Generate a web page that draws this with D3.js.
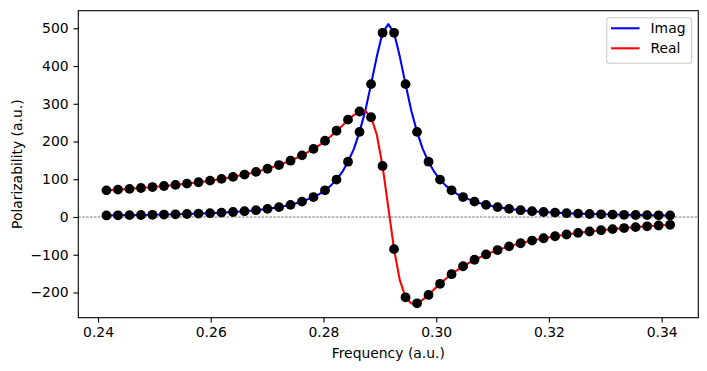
<!DOCTYPE html>
<html>
<head>
<meta charset="utf-8">
<script src="https://cdn.jsdelivr.net/npm/d3@7"></script>
<style>
  body { margin: 0; background: #fff; }
  svg text { font-family: "DejaVu Sans", sans-serif; font-size: 13.9px; fill: #000; }
</style>
</head>
<body>
<svg id="chart" width="707" height="371"></svg>
<script>
// sampled points (black dots)
const freq = [
  0.24150, 0.24354, 0.24558, 0.24762, 0.24966, 0.25170, 0.25374, 0.25578, 0.25783, 0.25987,
  0.26191, 0.26395, 0.26599, 0.26803, 0.27007, 0.27211, 0.27415, 0.27619, 0.27823, 0.28027,
  0.28231, 0.28435, 0.28640, 0.28844, 0.29048, 0.29252, 0.29456, 0.29660, 0.29864, 0.30068,
  0.30272, 0.30476, 0.30680, 0.30884, 0.31089, 0.31293, 0.31497, 0.31701, 0.31905, 0.32109,
  0.32313, 0.32517, 0.32721, 0.32925, 0.33129, 0.33333, 0.33538, 0.33742, 0.33946, 0.34150
];
const imagVals = [
  4.1, 4.5, 4.9, 5.3, 5.9, 6.5, 7.2, 8.0, 9.0, 10.1,
  11.6, 13.3, 15.4, 18.1, 21.6, 26.1, 32.2, 40.7, 52.8, 70.8,
  99.0, 146.5, 225.5, 352, 488, 488, 352, 225.5, 146.5, 99.0,
  70.8, 52.8, 40.7, 32.2, 26.1, 21.6, 18.1, 15.4, 13.3, 11.6,
  10.1, 9.0, 8.0, 7.2, 6.5, 5.9, 5.3, 4.9, 4.5, 4.1
];
const realVals = [
  70.6, 72.5, 74.6, 76.9, 79.3, 82.1, 85.1, 88.4, 92.1, 96.3,
  101.0, 106.3, 112.4, 119.5, 127.8, 137.6, 149.2, 163.3, 180.5, 202,
  228.5, 258, 279.5, 264.5, 135.2, -85.2, -212.7, -228.6, -206.5, -177.0,
  -151.5, -130.5, -113.3, -99.2, -87.6, -77.8, -69.5, -62.4, -56.3, -51.0,
  -46.3, -42.1, -38.4, -35.1, -32.1, -29.3, -26.9, -24.6, -22.5, -20.6
];

// extra points the curves pass through between the dots near the resonance
const lineFreqExtra = [0.27926, 0.28130, 0.28334, 0.28538, 0.28742, 0.28946, 0.29150,
                       0.29354, 0.29558, 0.29762, 0.29966, 0.30170, 0.30374];
const lineImagExtra = [60.8, 83.2, 119.5, 180, 281.5, 425, 511,
                       425, 281.5, 180, 119.5, 83.2, 60.8];
const lineRealExtra = [190.5, 214, 242, 270, 281, 218, 25,
                       -167.3, -229.3, -218.9, -191.1, -163.7, -140.5];

const xTicks = [0.24, 0.26, 0.28, 0.30, 0.32, 0.34];
const yTicks = [-200, -100, 0, 100, 200, 300, 400, 500];

const seriesNames = ['Imag', 'Real'];
const seriesColors = ['#0000ff', '#ff0000'];

const margin = { left: 78.3, right: 698.3, top: 10.7, bottom: 317.7 };

const svg = d3.select('#chart');

let x = d3.scaleLinear().domain([0.2365, 0.3465]).range([margin.left, margin.right]);
let y = d3.scaleLinear().domain([-266.8, 546.6]).range([margin.bottom, margin.top]);

// merge dots and extra points into one sorted line per series
function linePoints(vals, extra) {
  let pts = freq.map((f, i) => [f, vals[i]]);
  lineFreqExtra.forEach((f, i) => pts.push([f, extra[i]]));
  return pts.sort((a, b) => a[0] - b[0]);
}
const lines = [linePoints(imagVals, lineImagExtra), linePoints(realVals, lineRealExtra)];

// zero line
svg.append('line')
  .attr('x1', margin.left).attr('x2', margin.right)
  .attr('y1', y(0)).attr('y2', y(0))
  .attr('stroke', '#555')
  .attr('stroke-width', 0.8)
  .attr('stroke-dasharray', '2.6,1.3');

let lineGen = d3.line().x((d) => x(d[0])).y((d) => y(d[1]));

lines.forEach((pts, idx) => {
  svg.append('path')
    .attr('d', lineGen(pts))
    .attr('fill', 'none')
    .attr('stroke', seriesColors[idx])
    .attr('stroke-width', 2.08)
    .attr('stroke-linejoin', 'round');
});

// dots
[imagVals, realVals].forEach((vals) => {
  svg.append('g')
    .selectAll('circle')
    .data(vals)
    .join('circle')
    .attr('cx', (d, i) => x(freq[i]))
    .attr('cy', (d) => y(d))
    .attr('r', 4.9)
    .attr('fill', '#000');
});

// axes
let xAxis = d3.axisBottom(x).tickValues(xTicks).tickFormat(d3.format('.2f'))
  .tickSize(4.86).tickPadding(4.86).tickSizeOuter(0);
let yAxis = d3.axisLeft(y).tickValues(yTicks).tickFormat(d3.format('d'))
  .tickSize(4.86).tickPadding(4.86).tickSizeOuter(0);

let gx = svg.append('g').attr('transform', `translate(0,${margin.bottom})`).call(xAxis);
let gy = svg.append('g').attr('transform', `translate(${margin.left},0)`).call(yAxis);
[gx, gy].forEach((g) => {
  g.select('.domain').remove();
  g.selectAll('.tick line').attr('stroke', '#000').attr('stroke-width', 1.1);
  g.selectAll('.tick text').attr('font-size', 13.9).attr('font-family', '"DejaVu Sans", sans-serif');
});

// frame
svg.append('rect')
  .attr('x', margin.left).attr('y', margin.top)
  .attr('width', margin.right - margin.left)
  .attr('height', margin.bottom - margin.top)
  .attr('fill', 'none')
  .attr('stroke', '#000')
  .attr('stroke-width', 1.1);

// axis labels
svg.append('text')
  .attr('x', (margin.left + margin.right) / 2)
  .attr('y', 358)
  .attr('text-anchor', 'middle')
  .text('Frequency (a.u.)');

svg.append('text')
  .attr('transform', `translate(17,${(margin.top + margin.bottom) / 2}) rotate(-90)`)
  .attr('text-anchor', 'middle')
  .attr('dominant-baseline', 'central')
  .text('Polarizability (a.u.)');

// legend
let legend = svg.append('g');
legend.append('rect')
  .attr('x', 606.7).attr('y', 17.7)
  .attr('width', 85).attr('height', 45.6)
  .attr('rx', 2.8)
  .attr('fill', '#fff').attr('fill-opacity', 0.8)
  .attr('stroke', '#cccccc').attr('stroke-width', 1.1);

seriesNames.forEach((name, idx) => {
  let ly = 28.3 + idx * 20;
  legend.append('line')
    .attr('x1', 611).attr('x2', 639.5)
    .attr('y1', ly).attr('y2', ly)
    .attr('stroke', seriesColors[idx])
    .attr('stroke-width', 2.08);
  legend.append('text')
    .attr('x', 650.5).attr('y', ly)
    .attr('dominant-baseline', 'central')
    .text(name);
});
</script>
</body>
</html>
